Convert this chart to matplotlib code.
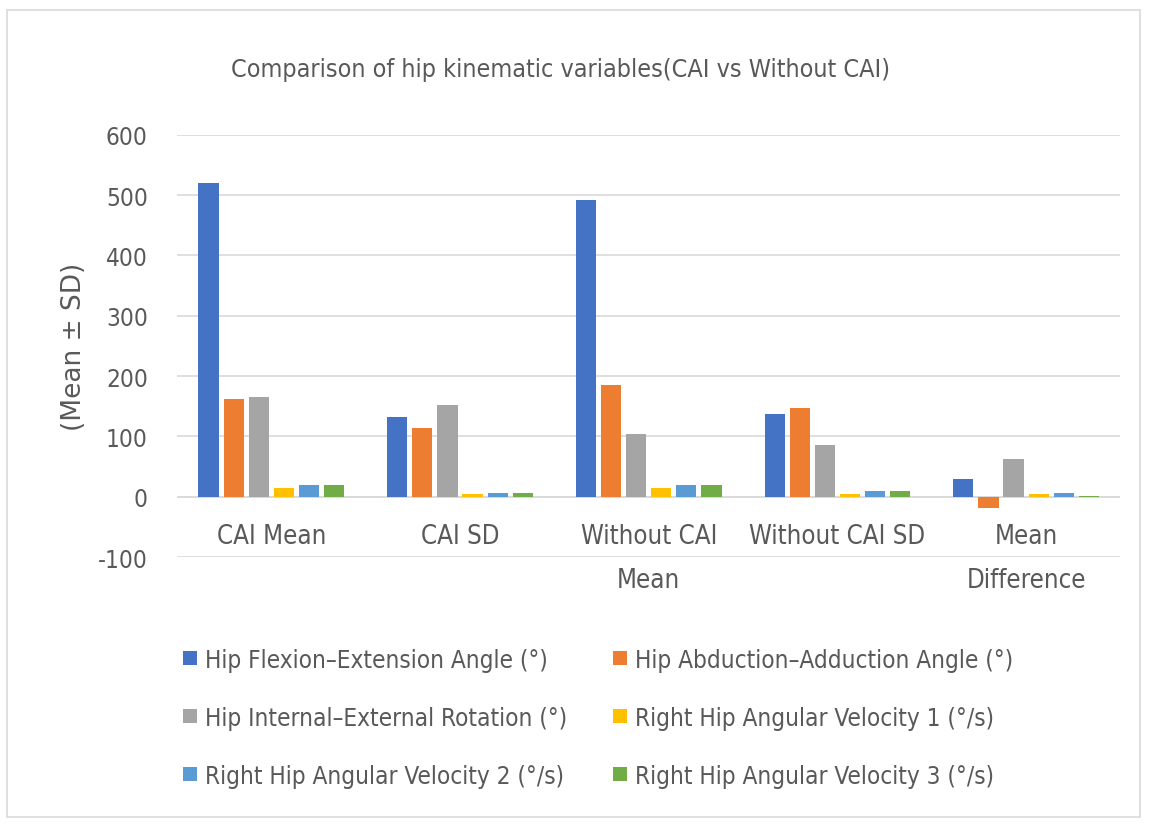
import numpy as np
import matplotlib.pyplot as plt
from matplotlib.patches import Rectangle

plt.rcParams['font.family'] = ['DejaVu Sans']
plt.rcParams['font.stretch'] = 'condensed'
plt.rcParams['axes.unicode_minus'] = False

categories = ["CAI Mean", "CAI SD", "Without CAI\nMean", "Without CAI SD", "Mean\nDifference"]
series_names = [
    "Hip Flexion\u2013Extension Angle (\u00b0)",
    "Hip Abduction\u2013Adduction Angle (\u00b0)",
    "Hip Internal\u2013External Rotation (\u00b0)",
    "Right Hip Angular Velocity 1 (\u00b0/s)",
    "Right Hip Angular Velocity 2 (\u00b0/s)",
    "Right Hip Angular Velocity 3 (\u00b0/s)",
]
flex_ext = [520, 132, 492, 137, 29]
abd_add = [162, 114, 185, 147, -18]
int_ext = [166, 152, 104, 86, 62]
vel1 = [15, 4, 15, 4, 5]
vel2 = [19, 6, 19, 10, 6]
vel3 = [19, 6, 19, 10, 1]
colors = ["#4472C4", "#ED7D31", "#A5A5A5", "#FFC000", "#5B9BD5", "#70AD47"]

values = [flex_ext, abd_add, int_ext, vel1, vel2, vel3]

fig = plt.figure(figsize=(11.52, 8.28), dpi=100)
ax = fig.add_axes([0.1536, 0.326, 0.819, 0.51])

x = np.arange(len(categories))
slot = 0.133
for i, (vals, name, c) in enumerate(zip(values, series_names, colors)):
    ax.bar(x + (i - 2.5) * slot, vals, width=0.107, color=c, label=name, zorder=3)

ax.set_ylim(-100, 600)
ax.set_xlim(-0.5, len(categories) - 0.5)
ax.set_yticks(range(-100, 601, 100))
ax.tick_params(axis='y', length=0, labelsize=17.5, labelcolor='#595959', pad=21)
ax.set_xticks([])
ax.grid(axis='y', color='#D9D9D9', linewidth=1.2, zorder=0)
for s in ax.spines.values():
    s.set_visible(False)
ax.axhline(0, color='#D9D9D9', linewidth=1.2, zorder=2)

for xi, lab in zip(x, categories):
    ax.annotate(lab, xy=(xi, 0), xytext=(0, -19), textcoords='offset points',
                ha='center', va='top', fontsize=18.5, color='#595959', linespacing=1.9)

ax.set_ylabel("(Mean \u00b1 SD)", fontsize=19, fontstretch='normal', color='#595959', labelpad=8)
fig.suptitle("Comparison of hip kinematic variables(CAI vs Without CAI)",
             fontsize=18, color='#595959', x=0.487, y=0.93)

# Excel fills legend rows first
handles, labels = ax.get_legend_handles_labels()
order = [0, 2, 4, 1, 3, 5]
fig.legend([handles[k] for k in order], [labels[k] for k in order],
           loc='upper left', bbox_to_anchor=(0.14, 0.243), ncol=2, frameon=False,
           fontsize=17.5, handlelength=0.55, handleheight=0.55, handletextpad=0.35,
           labelspacing=1.4, columnspacing=1.9, labelcolor='#595959')

fig.patches.append(Rectangle((0.006, 0.012), 0.984, 0.975, transform=fig.transFigure,
                             fill=False, edgecolor='#D9D9D9', linewidth=1.2))

fig.savefig("out.png", dpi=100, facecolor='white')
